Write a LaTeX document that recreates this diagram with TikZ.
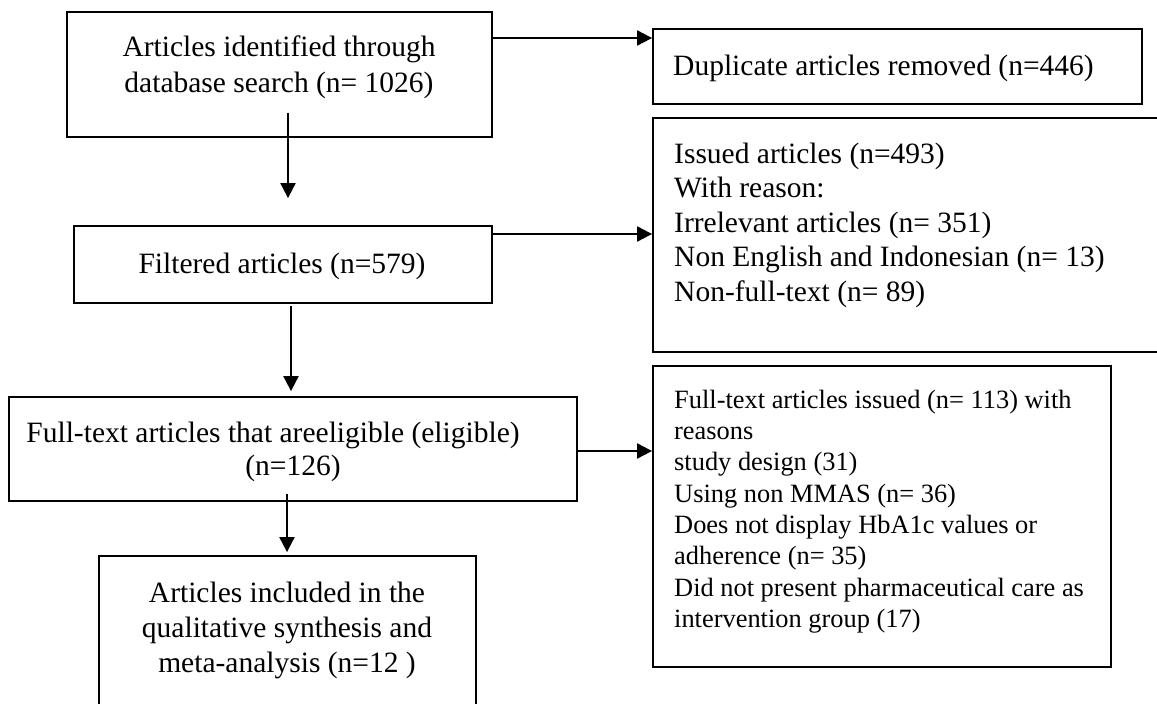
\documentclass[tikz,border=0pt]{standalone}
\usepackage{fontspec}
\setmainfont{Liberation Serif}
\usetikzlibrary{arrows.meta,calc}
\newcommand\tst{\rule{0pt}{25pt}}
\begin{document}
\begin{tikzpicture}[x=1pt,y=-1pt,
  box/.style={draw, line width=1.8pt, rectangle, inner sep=0pt},
  txt/.style={inner sep=0pt, font=\fontsize{29.5}{34.5}\selectfont},
  arr/.style={line width=2pt, -{Triangle[length=15pt,width=15pt]}}]
\useasboundingbox (0,0) rectangle (1157,704);
\fill[white] (0,0) rectangle (1157,704);
% boxes
\node[box, minimum width=425pt, minimum height=125pt] (b1) at (279.5,74.5) {};
\node[box, minimum width=489pt, minimum height=75pt] (dup) at (897.5,66.5) {};
\node[box, minimum width=517pt, minimum height=234pt] (iss) at (911.5,235) {};
\node[box, minimum width=418pt, minimum height=77pt] (b2) at (283,264.5) {};
\node[box, minimum width=568pt, minimum height=104pt] (b4) at (293,449) {};
\node[box, minimum width=458pt, minimum height=301pt] (b5) at (882,516.5) {};
\node[box, minimum width=377pt, minimum height=170pt] (b6) at (287.5,641) {};
% texts
\node[txt, align=center, anchor=north, font=\fontsize{29.5}{36}\selectfont] (t1) at (279,31)
  {\tst Articles identified through\\database search (n= 1026)};
\node[txt, anchor=base west] (tdup) at (673,75) {Duplicate articles removed (n=446)};
\node[txt, align=left, anchor=north west, font=\fontsize{29.5}{34.5}\selectfont] (tiss) at (674,138)
  {\tst Issued articles (n=493)\\With reason:\\Irrelevant articles (n= 351)\\Non English and Indonesian (n= 13)\\Non-full-text (n= 89)};
\node[txt, anchor=base] (t2) at (282,273) {Filtered articles (n=579)};
\node[txt, anchor=base] (t4a) at (273,442) {Full-text articles that areeligible (eligible)};
\node[txt, anchor=base] (t4b) at (293,475) {(n=126)};
\node[txt, align=center, anchor=north, font=\fontsize{29.5}{35}\selectfont] (t6) at (287,577)
  {\tst Articles included in the\\qualitative synthesis and\\meta-analysis (n=12 )};
\node[txt, align=left, anchor=north west, font=\fontsize{26.4}{31.3}\selectfont] (t5) at (674,383)
  {\tst Full-text articles issued (n= 113) with\\reasons\\study design (31)\\Using non MMAS (n= 36)\\Does not display HbA1c values or\\adherence (n= 35)\\Did not present pharmaceutical care as\\intervention group (17)};
% connector levels
\coordinate (yA) at (0,38);
\coordinate (yB) at (0,234);
\coordinate (yC) at (0,451);
\coordinate (x1) at (288,0);
\coordinate (x2) at (291,0);
\coordinate (x3) at (287,0);
% connectors
\draw[arr] (b1.east |- yA) -- (dup.west |- yA);
\draw[arr] (b2.east |- yB) -- (iss.west |- yB);
\draw[arr] (b4.east |- yC) -- (b5.west |- yC);
\draw[arr, shorten <=-25pt, shorten >=27pt] (b1.south -| x1) -- (b2.north -| x1);
\draw[arr, shorten <=2pt, shorten >=5pt] (b2.south -| x2) -- (b4.north -| x2);
\draw[arr, shorten <=-8pt, shorten >=3pt] (b4.south -| x3) -- (b6.north -| x3);
\end{tikzpicture}
\end{document}
